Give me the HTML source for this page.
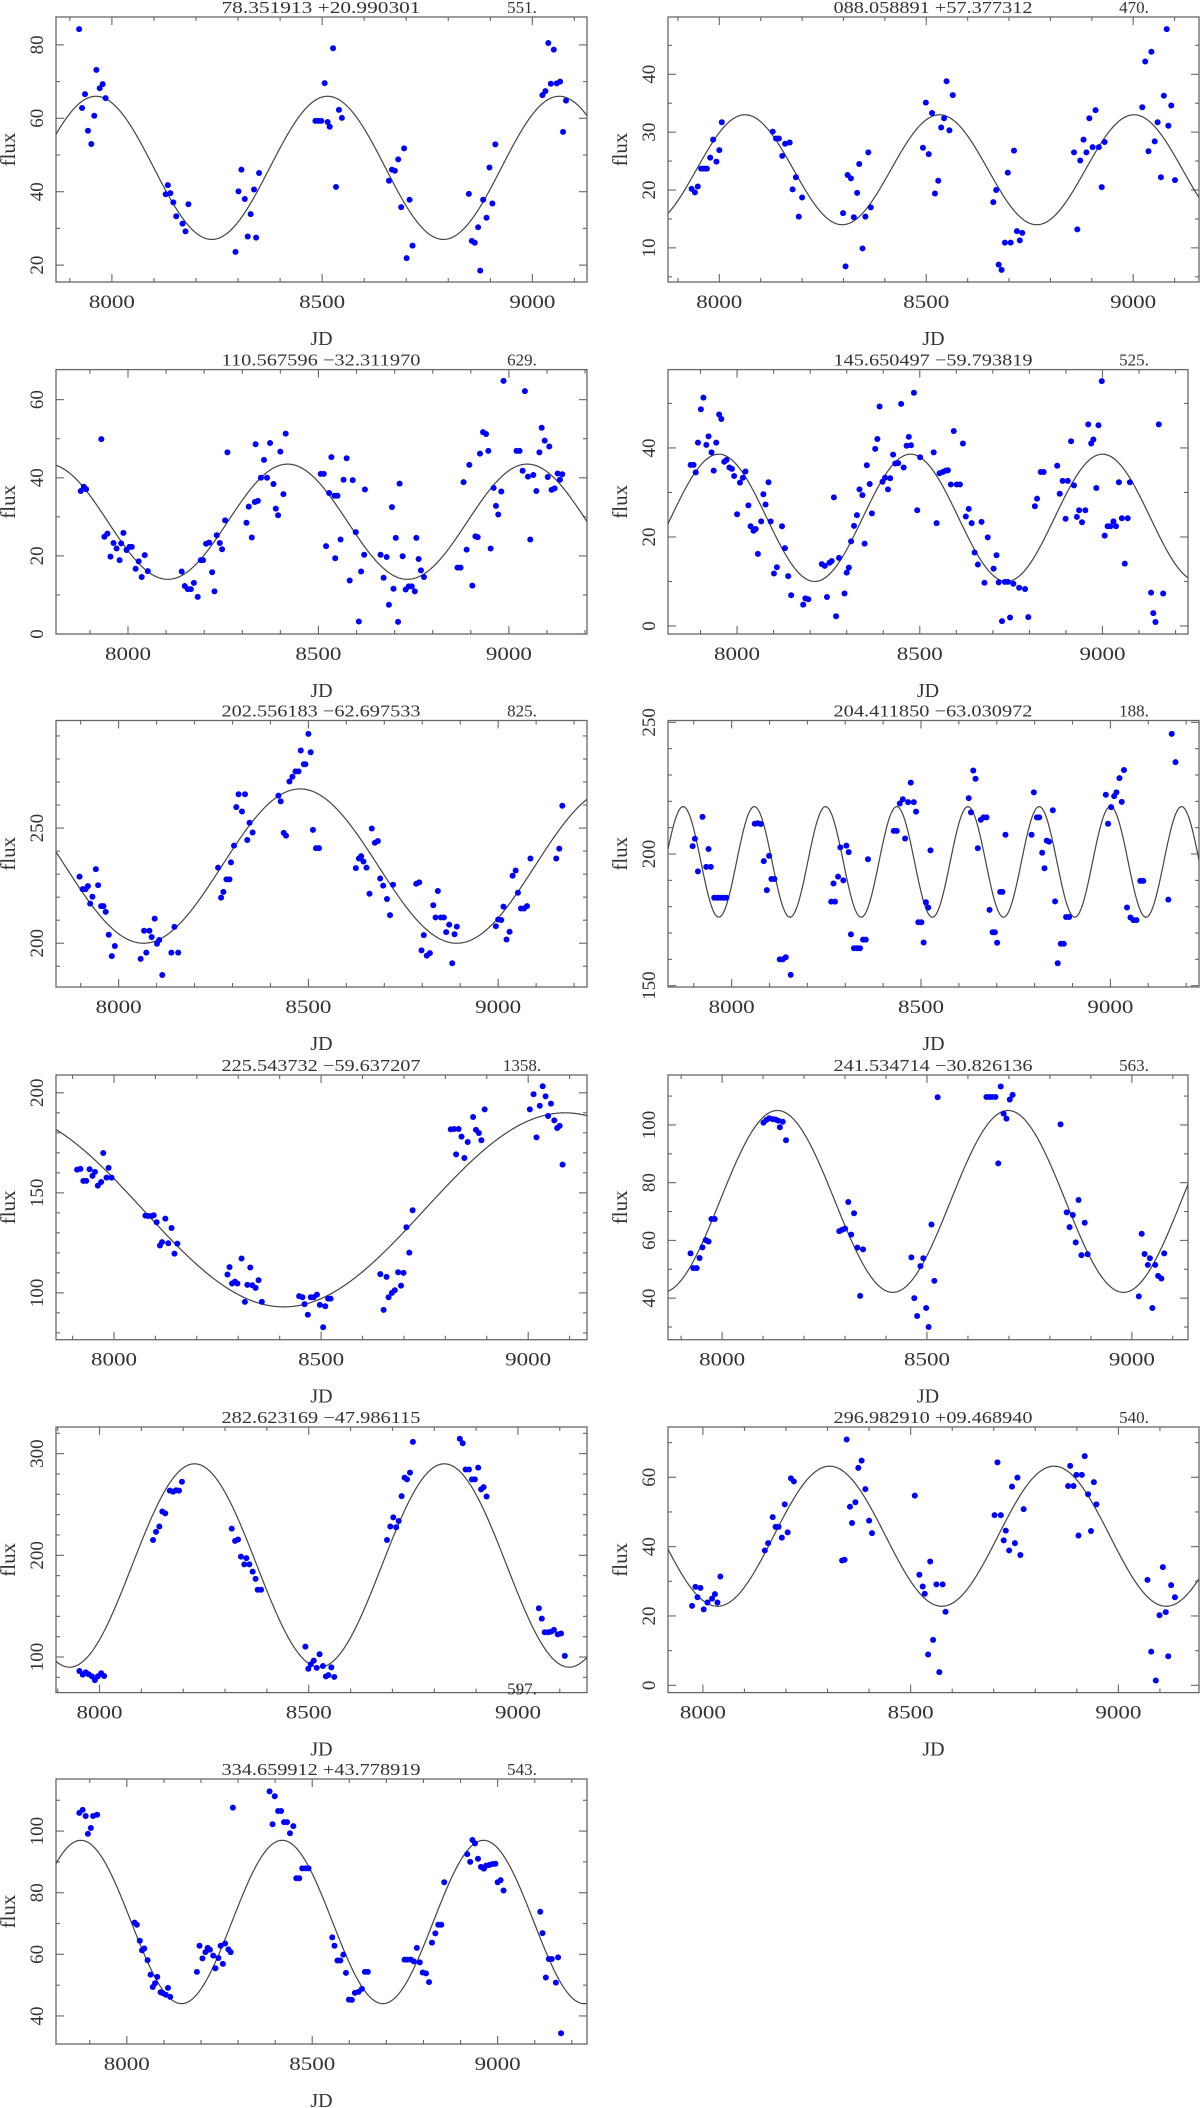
<!DOCTYPE html>
<html><head><meta charset="utf-8"><title>Light curves</title>
<style>
html,body{margin:0;padding:0;background:#fff;}
svg{display:block;}
text{font-family:"Liberation Serif",serif;fill:#333;}
</style></head>
<body>
<svg id="fig" width="1200" height="2108" viewBox="0 0 1200 2108" xmlns="http://www.w3.org/2000/svg"></svg>
<script>
// ---------- data (JD, flux) per panel ----------
const jdA=[7922,7929,7936,7943,7951,7958,7963,7971,7978,7985,8128,8133,8139,8146,8153,8168,8175,8182,8294,8301,8308,8316,8323,8330,8338,8343,8350,8484,8491,8498,8506,8513,8518,8526,8533,8540,8547,8659,8666,8673,8681,8688,8695,8701,8708,8715,8849,8856,8863,8871,8876,8883,8891,8898,8905,8912,9024,9031,9038,9044,9051,9058,9066,9073,9080];
const fluxA=[84.3,62.8,66.6,56.6,53,60.7,73.2,68.2,69.3,65.5,39.3,41.8,39.6,37.1,33.3,31.3,29.2,36.6,23.6,40.1,46,38,27.8,33.9,40.6,27.5,45.1,59.3,59.3,59.3,69.6,59,57.7,79.1,41.3,62.3,60.1,43,46,45.7,48.8,35.8,51.8,21.9,37.8,25.3,39.4,26.6,26.1,30.3,18.5,37.8,32.9,46.6,36.8,52.9,66.3,67.4,80.5,69.4,78.7,69.5,70,56.3,64.8];

const jdB=[7933,7941,7948,7956,7963,7970,7978,7985,7993,8000,8006,8129,8137,8144,8152,8159,8170,8177,8185,8192,8200,8299,8305,8310,8318,8325,8333,8338,8346,8353,8360,8366,8492,8499,8506,8514,8521,8529,8536,8543,8549,8556,8564,8662,8669,8675,8682,8690,8697,8704,8712,8719,8726,8732,8857,8865,8872,8880,8887,8894,8902,8909,8917,8924,8931,9022,9029,9037,9044,9052,9059,9067,9074,9081,9085,9092,9101];
const fluxB=[20.2,19.6,20.6,23.7,23.7,23.7,25.6,28.7,24.9,26.9,31.7,30.1,28.9,28.9,25.9,28,28.2,20.1,22.2,15.4,18.7,16,6.8,22.6,22,15.3,19.5,24.5,9.9,15.4,26.5,17,27.3,35.1,26.2,33.3,19.4,21.6,30.8,32.4,38.8,30.3,36.4,17.9,20,7.1,6.2,10.9,23,10.9,26.8,12.9,11.3,12.6,26.5,13.2,25.1,28.7,26.5,32.4,27.4,33.8,27.4,20.5,28.3,34.3,42.2,26.7,43.9,28.4,31.7,22.2,36.3,47.8,31.1,34.6,21.7];

const jdC=[7876,7884,7890,7930,7938,7946,7954,7962,7970,7978,7982,7988,7996,8004,8010,8020,8028,8036,8044,8052,8141,8149,8157,8165,8173,8183,8191,8197,8205,8213,8221,8227,8233,8241,8247,8255,8261,8311,8317,8325,8333,8335,8341,8349,8357,8365,8373,8382,8388,8394,8400,8408,8414,8506,8514,8520,8528,8534,8542,8544,8550,8558,8566,8574,8582,8590,8598,8606,8612,8620,8622,8663,8671,8679,8685,8693,8697,8703,8709,8713,8721,8729,8737,8745,8753,8757,8763,8769,8777,8865,8873,8881,8889,8896,8904,8912,8918,8924,8932,8940,8946,8952,8960,8966,8972,8980,8986,9020,9028,9036,9042,9050,9056,9064,9072,9080,9086,9094,9102,9106,9112,9120,9128,9134,9140];
const fluxC=[36.6,37.7,37.1,49.9,24.9,25.7,19.8,23.3,21.9,18.9,23.2,25.9,21.5,22.3,22.3,16.7,18.6,14.6,20.2,16.1,16,12.3,11.5,11.5,13.1,9.5,18.9,18.9,23.1,23.4,15.8,10.9,25.3,23.3,21.7,29.1,46.5,28.5,32.6,24.7,33.8,48.6,34.1,40,44.6,40,48.9,38.4,32.1,30.4,46.7,35.8,51.3,41,41,22.5,36.1,45.3,35.4,19.4,35.4,24.2,39.5,45,13.7,39.4,26.1,3.2,16,20.3,37,20.3,14.4,19.7,7.5,32.5,11.6,24.6,3.1,38.5,19.9,11.4,12.2,12.2,10.9,24.6,19.2,16.3,14.6,17,17,38.9,21.6,43.3,12.4,25,24.8,46.2,51.7,51.2,46.9,21.9,37.4,32.8,30.6,36.5,64.8,46.9,46.9,41.8,62.2,40.3,24.2,40.7,36.6,46.5,52.8,49.5,40.2,48,36.9,37.3,41.1,39.5,40.9];

const jdD=[7873,7881,7887,7893,7901,7908,7916,7922,7930,7936,7943,7951,7957,7965,7971,7979,7986,7992,8000,8008,8016,8023,8031,8037,8045,8051,8057,8066,8072,8078,8086,8092,8101,8109,8123,8131,8140,8148,8181,8187,8195,8232,8240,8246,8253,8259,8265,8271,8279,8294,8300,8306,8312,8320,8328,8335,8343,8349,8355,8363,8369,8378,8384,8390,8398,8405,8413,8419,8427,8433,8441,8449,8456,8464,8470,8476,8484,8493,8501,8538,8546,8554,8563,8571,8577,8585,8593,8601,8610,8618,8626,8634,8642,8650,8659,8669,8677,8686,8702,8710,8716,8725,8733,8741,8747,8756,8772,8788,8797,8815,8821,8831,8839,8876,8883,8891,8899,8905,8914,8922,8930,8936,8944,8953,8961,8969,8975,8983,8989,8998,9006,9014,9022,9030,9037,9045,9053,9061,9069,9075,9133,9139,9145,9154,9166];
const fluxD=[36.2,36.2,34.5,41.2,48.7,51.3,40.7,42.6,39,34.9,41.2,47.5,46.5,36.9,37.3,35.6,35.3,33.7,25.1,32.2,33.3,34.7,27.1,22.4,21.4,21.8,16.2,23.5,29.6,27.3,32.3,23.5,11.8,13.2,22.4,17.5,11.2,6.9,4.8,6.2,6,13.9,13.5,6.5,14.2,14.6,28.9,2.2,15.3,7.3,12,13.1,19,22.5,24.9,30.7,29.4,18.5,36.1,31.9,25.3,39.8,42,49.3,32.4,33.3,30.7,33.2,38.5,36.5,36.6,49.9,35.6,40.5,42.5,40.6,52.4,26,37.9,39,23.1,34.3,34.6,34.9,35,31.8,43.8,31.8,31.8,41,24.6,26.3,23.1,16.5,13.8,23.4,9.7,19.9,12.9,15.9,9.8,1.1,9.9,9.9,1.9,9.5,8.6,8.3,2,26.9,28.6,34.6,34.6,36,29.7,32.6,24.1,32.6,41.5,31.6,24.5,26,23.3,26,45.3,41,41.9,31,45.1,55,20.3,22.4,22.4,23.5,22.4,32.3,24.2,14,24.2,32.3,7.5,2.9,0.9,45.3,7.3];

const jdE=[7897,7905,7913,7919,7925,7931,7940,7946,7954,7960,7966,7974,7982,7990,8058,8067,8073,8081,8087,8095,8101,8107,8115,8139,8147,8157,8262,8270,8276,8284,8292,8296,8304,8310,8316,8325,8333,8339,8345,8353,8421,8427,8435,8441,8450,8458,8466,8474,8480,8488,8492,8500,8506,8512,8520,8528,8625,8633,8639,8645,8653,8661,8667,8675,8683,8689,8697,8707,8715,8723,8784,8792,8798,8804,8812,8820,8829,8835,8841,8849,8857,8863,8871,8879,8885,8891,8994,9000,9008,9014,9022,9030,9038,9046,9052,9060,9068,9076,9085,9153,9161,9169];
const fluxE=[228.9,223.5,223.5,224.8,217.2,220.2,232.2,225.2,216.1,216.1,213.6,203.7,194.4,198.8,193.2,205.4,195.9,205.4,202.7,210.7,199.8,201.4,186.2,195.9,207.1,195.9,232.8,219.8,222.3,227.7,227.7,235.1,242.4,259.1,264.7,257.2,264.7,244.8,252.3,248.1,264.1,261.6,247.9,246.7,270.2,272.3,274.6,274.6,283.7,277.7,277.7,290.9,282.9,249.2,241.3,241.3,232.6,236.8,237.8,235.5,232.8,221.5,249.8,243.6,244.4,228.1,225,219.2,212.2,225.4,225.8,226.4,196.9,203.5,194.6,195.7,216.5,211.2,222.7,211.2,211.2,204.8,208.1,191.3,203.9,207.2,207.4,210.3,210.1,215.9,201.6,205,229.3,231.6,221.9,215.1,215.1,216.1,236.8,236.8,241.1,259.7];

const jdF=[7897,7903,7911,7923,7933,7939,7945,7954,7962,7970,7978,7986,8061,8069,8077,8085,8093,8099,8105,8113,8127,8135,8143,8156,8263,8269,8273,8281,8287,8295,8303,8309,8315,8323,8331,8339,8347,8354,8360,8428,8436,8444,8452,8458,8466,8473,8481,8487,8493,8501,8507,8513,8519,8525,8626,8632,8638,8644,8650,8658,8665,8673,8681,8689,8695,8701,8709,8715,8723,8792,8798,8806,8812,8820,8826,8832,8838,8848,8854,8861,8869,8877,8883,8891,8988,8994,9002,9010,9016,9024,9030,9036,9044,9053,9061,9069,9079,9087,9153,9162,9172];
const fluxF=[203,205.8,193.4,214.1,195.1,201.9,195.1,183.4,183.4,183.4,183.4,183.4,211.5,211.7,211.4,197.3,186.3,199.3,190.5,190.5,160,160,160.8,154.1,181.9,188.8,181.9,191.4,202.5,190,203.2,200.7,169.5,164.2,164.2,164.2,167.5,167.5,198,208.8,208.8,219.2,220.8,205.9,219.7,227.1,219.7,216.1,174.1,174.1,166.4,181.7,179.7,201.4,221.2,215.8,231.7,228.6,202.2,213,213.9,213.9,178.8,170.3,170.3,166.3,185.6,185.6,207.3,207.3,223.4,213.9,213.9,200.5,194.6,205.1,204.7,216.6,182,158.5,165.9,165.9,176.1,176.1,222.5,211.5,217.8,222,223.4,228.8,219.8,231.9,179.7,175.9,174.9,174.9,189.8,189.8,182.7,245.6,234.9];

const jdG=[7911,7919,7926,7933,7941,7948,7954,7961,7969,7974,7982,7987,7994,8076,8083,8091,8096,8103,8111,8116,8124,8131,8139,8146,8153,8274,8279,8285,8292,8298,8308,8316,8322,8329,8334,8342,8349,8357,8447,8455,8460,8468,8475,8482,8490,8497,8505,8510,8517,8523,8643,8651,8658,8663,8671,8678,8686,8693,8699,8706,8713,8721,8813,8821,8826,8832,8839,8846,8854,8867,8874,8881,8887,8895,9004,9013,9020,9028,9035,9042,9048,9055,9063,9070,9076,9083];
const fluxG=[161.6,162,156,156,161.8,158.5,160.5,153.6,155.4,169.9,157.6,162.5,157.6,138.6,138.4,138.4,138.8,135.3,123.7,125.4,137.1,124.8,132.4,119.6,124.6,109.2,112.9,104.7,105.6,104.7,117.2,95.5,104,112.7,103.8,102.5,106.3,95.5,98.4,97.8,94.4,89.1,97.8,97.8,99.1,94,82.8,93.3,97.1,97.1,109.4,91.5,108,97.8,100,101.3,110.3,103.6,110,132.8,120.1,141.3,181.7,181.9,169.2,181.9,178.1,167.4,175.4,187.9,181.5,179.9,176.3,191.7,191.7,199.3,177.7,193.5,203.3,198.2,188.4,194.6,186.2,182.4,183.5,164.1];

const jdH=[7923,7930,7938,7945,7952,7960,7967,7974,7982,8101,8108,8115,8123,8130,8137,8141,8148,8156,8286,8293,8300,8308,8315,8322,8330,8337,8344,8462,8469,8476,8484,8491,8498,8504,8511,8518,8526,8645,8652,8659,8667,8674,8680,8687,8694,8702,8709,8826,8841,8848,8856,8863,8870,8877,8885,8892,9017,9024,9031,9039,9044,9050,9057,9064,9072,9079];
const fluxH=[55.5,50.4,50.4,53.9,57.6,60.1,59.6,67.4,67.4,100.8,101.7,102.3,102,101.9,101.5,99.2,101.1,94.7,63.2,63.7,64.1,73.3,62,69.4,57.5,40.8,56.9,54.1,40,33.8,51.1,53.8,36.6,30,65.5,46,109.6,109.7,109.7,109.7,109.7,86.7,113.3,103.9,102.2,108.8,110.4,100.2,69.7,64.6,68.8,59.3,74,54.9,66.1,55.2,40.6,62.3,55.3,51.5,53.8,36.6,51.5,47.7,46.8,55.5];

const jdI=[7952,7960,7967,7974,7982,7989,7996,8004,8011,8128,8135,8143,8150,8157,8168,8176,8183,8190,8197,8316,8324,8331,8338,8346,8351,8358,8366,8373,8378,8386,8492,8499,8505,8512,8519,8526,8534,8541,8547,8554,8561,8687,8695,8702,8709,8715,8722,8729,8735,8742,8749,8861,8868,8875,8883,8890,8897,8905,8912,8918,8925,9050,9057,9064,9072,9079,9086,9095,9103,9112];
const fluxI=[86.2,82.7,84.9,83.1,80.9,77.3,80.9,84,81.3,215.1,223.1,228.4,243.1,241.3,263.6,262.7,264,263.6,272.4,226.2,214.2,215.6,198.7,191.1,197.3,191.1,184,176.9,166.2,166.2,110.2,88.5,92.9,96.4,89.3,102.7,91.1,80.9,82.2,89.8,80.4,215.1,228.4,237.3,227.6,233.8,258.2,276.4,274.7,281.3,311.6,314.7,310.2,284.4,284.4,274.7,274.7,286.2,264.9,267.1,257.8,148,137.8,124.4,124.4,124.9,126.7,122.2,123.1,101.1];

const jdJ=[7974,7982,7987,7994,8002,8011,8022,8029,8035,8042,8149,8157,8168,8175,8182,8190,8197,8204,8212,8219,8335,8341,8346,8354,8359,8367,8374,8382,8391,8400,8407,8510,8521,8529,8534,8542,8547,8554,8562,8569,8577,8584,8702,8709,8717,8724,8729,8737,8744,8751,8757,8764,8772,8879,8884,8892,8899,8904,8912,8919,8927,8934,8941,8947,9070,9079,9090,9099,9107,9114,9120,9127,9136];
const fluxJ=[22.9,28.4,25.4,28.1,21.9,23.9,25,26.3,23.9,31.4,38.9,41,48.5,45.7,45.7,42.6,52.2,44.1,59.7,58.8,36,36.2,70.9,51.5,46.8,52.8,62.7,64.8,56.6,47.5,43.9,54.7,31.9,28.5,26.4,8.9,35.7,13.1,29.1,3.8,29.1,21.2,49.1,64.3,49.1,41.8,44.6,38.9,57.3,41,59.9,37.6,50.8,57.5,63.3,57.5,60.7,43.2,60.7,66.1,55.1,44.5,58.6,52.2,30.4,9.7,1.4,20.2,34.1,21.1,8.4,28.9,25.4];

const jdK=[7872,7881,7889,7895,7903,7909,7920,8021,8027,8035,8041,8047,8056,8064,8070,8076,8082,8091,8097,8105,8111,8117,8189,8196,8204,8212,8218,8224,8233,8239,8247,8253,8259,8265,8274,8280,8286,8385,8393,8399,8408,8416,8424,8432,8440,8449,8457,8465,8473,8482,8490,8554,8560,8568,8576,8584,8591,8599,8607,8615,8625,8634,8642,8650,8749,8757,8766,8774,8782,8790,8798,8807,8815,8823,8832,8840,8848,8856,8918,8926,8932,8939,8947,8955,8963,8969,8977,8986,8994,9000,9008,9016,9115,9121,9130,9138,9146,9157,9163,9171];
const fluxK=[105.9,106.9,104.9,99.1,101,104.9,105.3,70.3,69.6,64.4,61.3,61.9,58.1,53.4,49.4,50.6,52.7,47.7,47.4,46.9,49.1,46.2,54.3,62.8,58.7,60.7,62.1,61.5,59.6,55.5,58.8,62.8,56.9,63.5,61.6,60.7,107.6,112.9,102.2,111.3,106.5,106.5,102.9,102.9,99.3,101.6,84.7,84.7,87.9,87.9,87.9,65.5,62.8,58,58,59.9,54,45.3,45.2,47.5,47.8,48.8,54.3,54.3,58.3,58.3,58.3,57.7,62.1,57.4,54.1,53.8,51,63.8,66.8,69.6,69.6,83.4,92.5,90,97.1,96,91,88.4,87.8,88.8,89,89.3,89.4,83.4,84.1,80.7,73.8,66.9,52.5,58.5,58.5,50.8,59,34.4];

// model parameters: mean, amplitude, period, epoch of maximum
const titles=["78.351913  +20.990301","088.058891  +57.377312","110.567596  \u221232.311970","145.650497  \u221259.793819","202.556183  \u221262.697533","204.411850  \u221263.030972","225.543732  \u221259.637207","241.534714  \u221230.826136","282.623169  \u221247.986115","296.982910  +09.468940","334.659912  +43.778919"];
const periodLabels=["551.","470.","629.","525.","825.","188.","1358.","563.","597.","540.","543."];
const fitMean=[46.5,23.5,28.75,24.3,233.5,197,141.5,73.5,190,43,70.5];
const fitAmp=[19.5,9.5,14.75,14.3,33.5,21,48.5,31.5,100,20.2,26.5];
const fitPeriod=[551,470,629,525,825,188,1358,563,597,540,543];
const fitEpoch=[7962,8062,8419,8475,8478,7872,9089,8135,8227,8305,7876];
const xMin=[7867,7876,7811,7811,7835,7832,7860,7868,7896,7916,7809];
const xMax=[9130,9159,9205,9234,9234,9234,9142,9137,9165,9194,9241];
const yMin=[15.4,4.1,0,-1.8,181,149.5,76.6,25.6,65,-2.1,30.9];
const yMax=[87.6,49.9,67.7,57.6,296.7,250.7,208.9,117.3,326.2,74.5,116.9];
const yLabelStep=[20,10,20,20,50,50,50,20,100,20,20];
const yMinorStep=[10,5,10,10,10,10,10,10,20,10,10];

const allJD=[jdA,jdB,jdC,jdD,jdE,jdF,jdG,jdH,jdI,jdJ,jdK];
const allFlux=[fluxA,fluxB,fluxC,fluxD,fluxE,fluxF,fluxG,fluxH,fluxI,fluxJ,fluxK];

// ---------- layout ----------
const rowTop=[17,369.6,720.5,1075,1427,1779];
const rowBot=[282,634,987,1339.7,1692.6,2044];
const colL=[56,668];
const colR=[[587,1199],[587,1188],[587,1199],[587,1188],[587,1199],[587,1199]];

const NS="http://www.w3.org/2000/svg";
const svg=document.getElementById('fig');
function mk(tag,attrs,parent){const e=document.createElementNS(NS,tag);for(const k in attrs)e.setAttribute(k,attrs[k]);(parent||svg).appendChild(e);return e;}

for(let p=0;p<11;p++){
  const row=Math.floor(p/2), col=p%2;
  const L=colL[col], R=colR[row][col], T=rowTop[row], B=rowBot[row];
  const g=mk('g',{});
  
  
  const sx=v=>L+(v-xMin[p])/(xMax[p]-xMin[p])*(R-L);
  const sy=v=>B-(v-yMin[p])/(yMax[p]-yMin[p])*(B-T);
  // clip
  const cid='clip'+p;
  const cp=mk('clipPath',{id:cid},g); mk('rect',{x:L,y:T,width:R-L,height:B-T},cp);
  // frame
  const fr=mk('rect',{x:L,y:T,width:R-L,height:B-T,fill:'none',stroke:'#666','stroke-width':1.3},g);
  
  
  // x ticks
  for(let v=Math.ceil(xMin[p]/100)*100; v<=xMax[p]; v+=100){
    const x=sx(v), major=(v%500===0), len=major?8:4;
    mk('line',{x1:x,y1:B,x2:x,y2:B-len,stroke:'#666','stroke-width':1.1},g);
    mk('line',{x1:x,y1:T,x2:x,y2:T+len,stroke:'#666','stroke-width':1.1},g);
    if(major){
      const t=mk('text',{x:x,y:B+26,'text-anchor':'middle','font-size':19,textLength:46,lengthAdjust:'spacingAndGlyphs'},g);
      t.textContent=v;
      
      
    }
  }
  // y ticks
  const ms=yMinorStep[p], ls=yLabelStep[p];
  for(let v=Math.ceil(yMin[p]/ms)*ms; v<=yMax[p]; v+=ms){
    const y=sy(v), major=(Math.abs(v%ls)<1e-6), len=major?8:4;
    mk('line',{x1:L,y1:y,x2:L+len,y2:y,stroke:'#666','stroke-width':1.1},g);
    mk('line',{x1:R,y1:y,x2:R-len,y2:y,stroke:'#666','stroke-width':1.1},g);
    if(major){
      const t=mk('text',{x:0,y:0,'text-anchor':'middle','font-size':19,transform:`translate(${L-13},${y}) rotate(-90)`},g);
      t.textContent=v;
      
      
    }
  }
  // axis titles
  const yt=mk('text',{x:0,y:0,'text-anchor':'middle','font-size':21,transform:`translate(${L-41},${(T+B)/2}) rotate(-90)`},g);
  yt.textContent='flux';
  
  
  const xt=mk('text',{x:(L+R)/2,y:B+63,'text-anchor':'middle','font-size':20},g);
  xt.textContent='JD';
  
  
  const tt=mk('text',{x:L+265,y:T-4,'text-anchor':'middle','font-size':17,textLength:199,lengthAdjust:'spacingAndGlyphs'},g);
  tt.textContent=titles[p];
  
  
  const pl=mk('text',{x:L+466,y:(p===8)?B+2:T-4,'text-anchor':'middle','font-size':17},g);
  pl.textContent=periodLabels[p];
  
  
  // model curve
  let d='';
  for(let i=0;i<=600;i++){
    const jd=xMin[p]+(xMax[p]-xMin[p])*i/600;
    const f=fitMean[p]+fitAmp[p]*Math.cos(2*Math.PI*(jd-fitEpoch[p])/fitPeriod[p]);
    d+=(i?'L':'M')+sx(jd).toFixed(2)+','+sy(f).toFixed(2);
  }
  const cv=mk('path',{d:d,fill:'none',stroke:'#444','stroke-width':1.2,'clip-path':`url(#${cid})`},g);
  
  
  // points
  const jds=allJD[p], fl=allFlux[p], n=Math.min(jds.length,fl.length);
  for(let i=0;i<n;i++){
    const c=mk('circle',{cx:sx(jds[i]),cy:sy(fl[i]),r:3,fill:'#0000ff'},g);
    
    
  }
}
</script>
</body></html>
